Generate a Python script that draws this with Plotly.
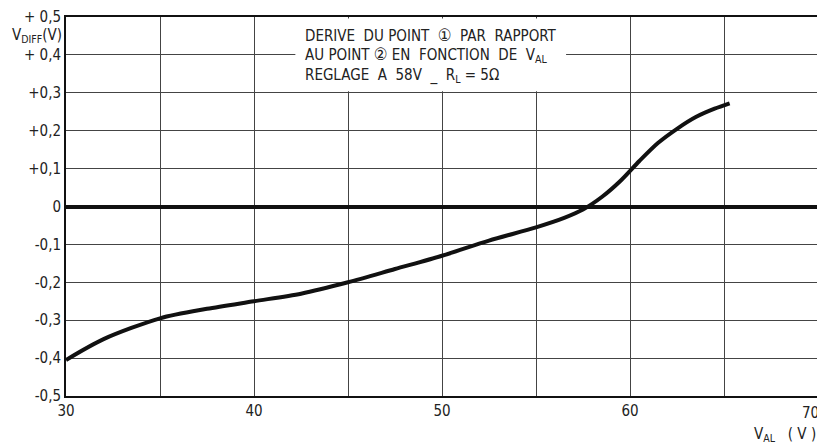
import plotly.graph_objects as go

# Curve: V_AL (V) vs V_DIFF (V)
v_al = [30, 32, 35, 37.5, 40, 42.5, 45, 47.5, 50, 52.5, 55, 56.5, 57.5, 58.5, 59.5, 60.5, 61.5, 62.5, 63.5, 64.5, 65.3]
v_diff = [-0.405, -0.35, -0.295, -0.27, -0.25, -0.23, -0.2, -0.165, -0.13, -0.09, -0.055,
          -0.03, -0.008, 0.025, 0.068, 0.12, 0.168, 0.205, 0.236, 0.258, 0.272]

x_tickvals = [30, 35, 40, 45, 50, 55, 60, 65, 70]
x_ticktext = ["30", "", "40", "", "50", "", "60", "", ""]
x_last_label = "70"
y_tickvals = [0.5, 0.4, 0.3, 0.2, 0.1, 0.0, -0.1, -0.2, -0.3, -0.4, -0.5]
y_ticktext = ["+ 0,5", "+ 0,4", "+0,3", "+0,2", "+0,1", "0", "-0,1", "-0,2", "-0,3", "-0,4", "-0,5"]

C1 = '<span style="font-size:17px">①</span>'
C2 = '<span style="font-size:17px">②</span>'
note_lines = [
    f"DERIVE  DU POINT  {C1}  PAR  RAPPORT",
    f"AU POINT {C2} EN  FONCTION  DE  V<sub>AL</sub>",
    "REGLAGE  A  58V  _  R<sub>L</sub> = 5Ω",
]

FONT = "Liberation Sans Narrow, DejaVu Sans Condensed, sans-serif"

fig = go.Figure()
fig.add_trace(go.Scatter(x=v_al, y=v_diff, mode="lines",
                         line=dict(color="#111", width=4, shape="spline", smoothing=0.8),
                         hoverinfo="skip"))

fig.update_layout(
    width=817, height=435,
    margin=dict(l=58, r=7, t=9, b=47),
    paper_bgcolor="white", plot_bgcolor="white",
    showlegend=False,
    font=dict(family=FONT, size=14, color="#222"),
)
fig.update_xaxes(range=[30, 70], tickvals=x_tickvals, ticktext=x_ticktext, automargin=False,
                 showgrid=True, gridcolor="#444", gridwidth=1.2,
                 showline=True, linecolor="#111", linewidth=2, mirror=True,
                 zeroline=False, ticks="", tickfont=dict(size=15))
fig.update_yaxes(range=[-0.5, 0.5], tickvals=y_tickvals, ticktext=y_ticktext, automargin=False,
                 showgrid=True, gridcolor="#444", gridwidth=1.2,
                 showline=True, linecolor="#111", linewidth=2, mirror=True,
                 zeroline=True, zerolinecolor="#111", zerolinewidth=3.5,
                 ticks="", tickfont=dict(size=15))

# white block behind the note text
fig.add_shape(type="rect", xref="x", yref="y", x0=42.2, x1=56.6, y0=0.304, y1=0.496,
              fillcolor="white", line=dict(width=0), layer="above")

note_y = [0.453, 0.400, 0.346]
for txt, yy in zip(note_lines, note_y):
    fig.add_annotation(x=42.6, y=yy, xref="x", yref="y", text=txt, showarrow=False,
                       xanchor="left", yanchor="middle", font=dict(family=FONT, size=15, color="#222"))

fig.add_annotation(xref="x domain", yref="y domain", x=-0.003, y=0.952, text="V<sub>DIFF</sub>(V)",
                   showarrow=False, xanchor="right", yanchor="middle", font=dict(size=15))
fig.add_annotation(xref="x", yref="y domain", x=x_tickvals[-1], y=-0.015, text=x_last_label,
                   showarrow=False, xanchor="right", yanchor="top", xshift=3, font=dict(size=15))
fig.add_annotation(xref="x domain", yref="y domain", x=1.0, y=-0.072, text="V<sub>AL</sub>   ( V )",
                   showarrow=False, xanchor="right", yanchor="top", font=dict(size=15))

fig.write_html("out.html")
